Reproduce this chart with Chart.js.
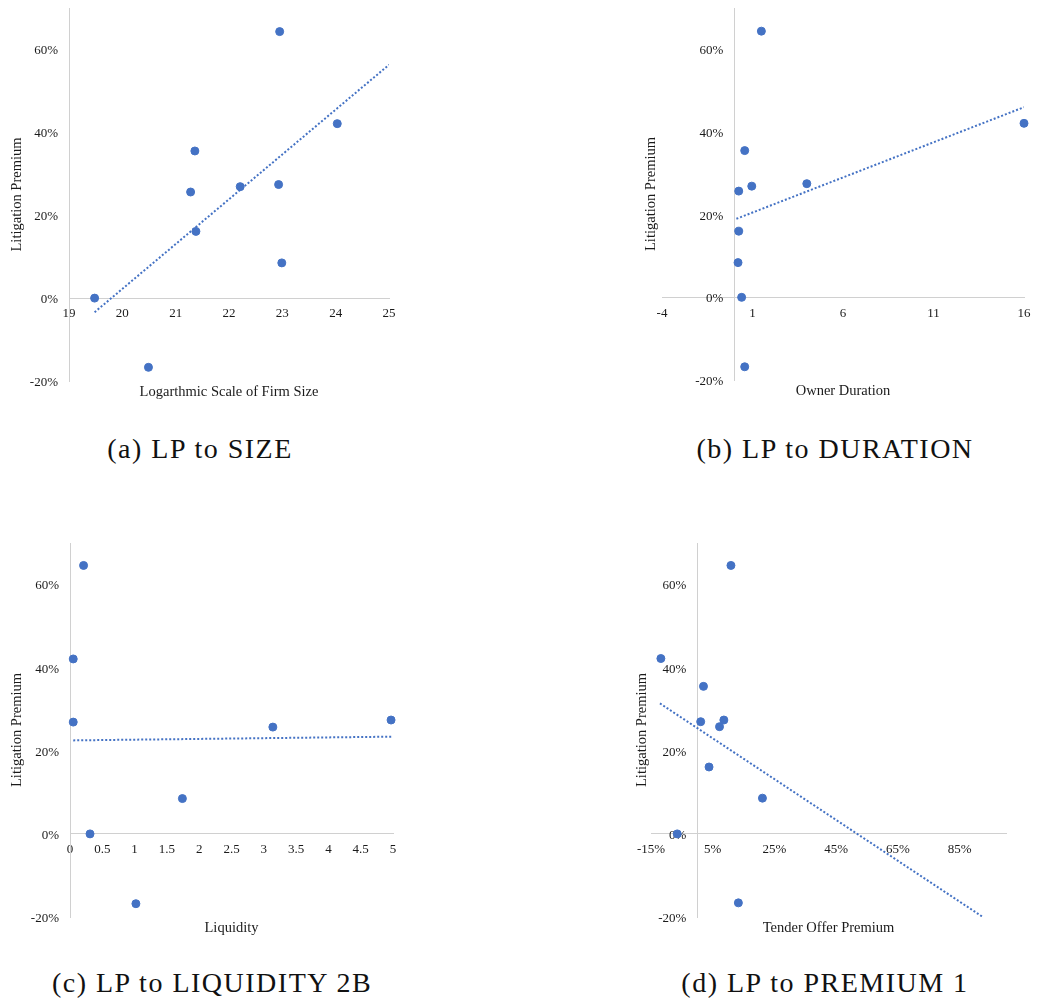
<!DOCTYPE html>
<html>
<head>
<meta charset="utf-8">
<script src="https://cdn.jsdelivr.net/npm/chart.js@4.4.1/dist/chart.umd.min.js"></script>
<style>
  body { margin: 0; background: #fff; width: 1038px; height: 1002px; position: relative; overflow: hidden; }
  canvas { position: absolute; }
  .cap {
    position: absolute; white-space: nowrap; color: #111;
    font-family: 'Liberation Serif', 'Times New Roman', serif;
    font-size: 28px; letter-spacing: 1.5px;
    transform: translate(-50%, -50%);
  }
</style>
</head>
<body>
<canvas id="chart-size"></canvas>
<canvas id="chart-duration"></canvas>
<canvas id="chart-liquidity"></canvas>
<canvas id="chart-premium"></canvas>

<div class="cap" style="left:200px; top:449px">(a) LP to SIZE</div>
<div class="cap" style="left:835px; top:449px">(b) LP to DURATION</div>
<div class="cap" style="left:212px; top:983px">(c) LP to LIQUIDITY 2B</div>
<div class="cap" style="left:825px; top:983px">(d) LP to PREMIUM 1</div>

<script>
// ---- data ----
const LP_TICKS = [-0.2, 0, 0.2, 0.4, 0.6];

// (a) firm size (log scale)
const SIZE_X  = [19.48, 20.49, 21.28, 21.36, 21.38, 22.21, 22.93, 22.95, 22.99, 24.03];
const SIZE_LP = [0, -0.167, 0.256, 0.355, 0.161, 0.269, 0.274, 0.643, 0.085, 0.421];
const SIZE_FIT_X  = [19.48, 25];
const SIZE_FIT_LP = [-0.034, 0.563];
const SIZE_TICKS  = [19, 20, 21, 22, 23, 24, 25];

// (b) owner duration
const DUR_X  = [1.49, 16.0, 0.57, 0.96, 4.0, 0.24, 0.24, 0.20, 0.40, 0.57];
const DUR_LP = [0.644, 0.421, 0.355, 0.269, 0.275, 0.257, 0.160, 0.084, 0, -0.168];
const DUR_FIT_X  = [0.11, 16];
const DUR_FIT_LP = [0.19, 0.46];
const DUR_TICKS  = [-4, 1, 6, 11, 16];

// (c) liquidity
const LIQ_X  = [0.21, 0.05, 0.05, 3.14, 4.97, 1.74, 0.31, 1.02];
const LIQ_LP = [0.646, 0.421, 0.269, 0.257, 0.274, 0.085, 0, -0.168];
const LIQ_FIT_X  = [0.05, 5.0];
const LIQ_FIT_LP = [0.225, 0.234];
const LIQ_TICKS  = [0, 0.5, 1, 1.5, 2, 2.5, 3, 3.5, 4, 4.5, 5];

// (d) tender offer premium
const PREM_X  = [0.109, -0.118, 0.020, 0.011, 0.086, 0.072, 0.038, 0.211, -0.065, 0.133];
const PREM_LP = [0.646, 0.422, 0.355, 0.270, 0.274, 0.258, 0.161, 0.086, 0, -0.166];
const PREM_FIT_X  = [-0.121, 0.925];
const PREM_FIT_LP = [0.314, -0.20];
const PREM_TICKS  = [-0.15, 0.05, 0.25, 0.45, 0.65, 0.85];

// ---- styling ----
const FONT   = "'Liberation Serif', 'Times New Roman', serif";
const TEXT   = '#1a1a1a';
const AXIS   = '#d0d0d0';
const BLUE   = '#4472C4';
const MARGIN = { left: 90, right: 40, top: 30, bottom: 40 };
const Y_LABEL_GAP = 11;   // px between the % labels and the vertical axis line

const pct = v => Math.round(v * 100) + '%';
const num = v => String(v);
const pairs = (xs, ys) => xs.map((x, i) => ({ x, y: ys[i] }));

// axis titles drawn relative to the plot area (axes cross at 0, so the built-in titles land in the wrong place)
const axisTitles = {
  id: 'axisTitles',
  beforeDraw(chart) {
    // labels of an axis positioned at a value sit flush against the line; nudge them off it
    const items = chart.scales.y.getLabelItems();
    items.forEach(it => {
      if (it._nudged) return;
      it.options.translation[0] -= Y_LABEL_GAP;
      it.options.translation[1] += 1.5;
      it._nudged = true;
    });
  },
  afterDraw(chart, args, opts) {
    const { ctx, chartArea: ca } = chart;
    ctx.save();
    ctx.font = `14.5px ${FONT}`;
    ctx.fillStyle = TEXT;
    ctx.textAlign = 'center';
    ctx.textBaseline = 'middle';
    ctx.fillText(opts.x, (ca.left + ca.right) / 2, ca.bottom + 11.5);
    ctx.translate(ca.left - opts.yGap, (ca.top + ca.bottom) / 2);
    ctx.rotate(-Math.PI / 2);
    ctx.fillText(opts.y, 0, 0);
    ctx.restore();
  },
};

function makePanel(cfg) {
  const el = document.getElementById(cfg.id);
  const a = cfg.area;
  el.width  = a.r - a.l + MARGIN.left + MARGIN.right;
  el.height = a.b - a.t + MARGIN.top + MARGIN.bottom;
  el.style.left = (a.l - MARGIN.left) + 'px';
  el.style.top  = (a.t - MARGIN.top) + 'px';

  const tickFont = { family: FONT, size: 13 };

  return new Chart(el, {
    type: 'scatter',
    data: {
      datasets: [
        {
          label: 'Litigation Premium',
          data: pairs(cfg.xs, cfg.lp),
          backgroundColor: BLUE,
          borderColor: BLUE,
          pointRadius: 4,
          pointHoverRadius: 4,
          clip: false,
        },
        {
          type: 'line',
          label: 'Linear trend',
          data: pairs(cfg.fitX, cfg.fitLp),
          borderColor: BLUE,
          borderWidth: 2,
          borderDash: [2, 2],
          pointRadius: 0,
          fill: false,
        },
      ],
    },
    options: {
      responsive: false,
      animation: false,
      events: [],
      layout: { padding: MARGIN },
      plugins: {
        legend: { display: false },
        tooltip: { enabled: false },
        axisTitles: { x: cfg.xTitle, y: 'Litigation Premium', yGap: cfg.yGap },
      },
      scales: {
        x: {
          type: 'linear',
          min: cfg.xMin, max: cfg.xMax,
          position: { y: 0 },
          afterBuildTicks: s => { s.ticks = cfg.xTicks.map(v => ({ value: v })); },
          grid: { display: false, drawTicks: false },
          border: { display: true, color: AXIS, width: 1 },
          ticks: { autoSkip: false, maxRotation: 0, padding: 8, color: TEXT, font: tickFont, callback: cfg.xFmt },
        },
        y: {
          type: 'linear',
          min: -0.2, max: 0.7,
          position: { x: cfg.yAt },
          afterBuildTicks: s => { s.ticks = LP_TICKS.map(v => ({ value: v })); },
          grid: { display: false, drawTicks: false },
          border: { display: true, color: AXIS, width: 1 },
          ticks: { autoSkip: false, color: TEXT, font: tickFont, callback: pct },
        },
      },
    },
    plugins: [axisTitles],
  });
}

makePanel({
  id: 'chart-size', area: { l: 69, t: 8, r: 389, b: 381 },
  xs: SIZE_X, lp: SIZE_LP, fitX: SIZE_FIT_X, fitLp: SIZE_FIT_LP,
  xTicks: SIZE_TICKS, xMin: 19, xMax: 25, yAt: 19, xFmt: num,
  xTitle: 'Logarthmic Scale of Firm Size', yGap: 52,
});

makePanel({
  id: 'chart-duration', area: { l: 662, t: 8, r: 1024, b: 380 },
  xs: DUR_X, lp: DUR_LP, fitX: DUR_FIT_X, fitLp: DUR_FIT_LP,
  xTicks: DUR_TICKS, xMin: -4, xMax: 16, yAt: 0, xFmt: num,
  xTitle: 'Owner Duration', yGap: 10.6,
});

makePanel({
  id: 'chart-liquidity', area: { l: 70, t: 543, r: 393, b: 917 },
  xs: LIQ_X, lp: LIQ_LP, fitX: LIQ_FIT_X, fitLp: LIQ_FIT_LP,
  xTicks: LIQ_TICKS, xMin: 0, xMax: 5, yAt: 0, xFmt: num,
  xTitle: 'Liquidity', yGap: 52.4,
});

makePanel({
  id: 'chart-premium', area: { l: 651, t: 543, r: 1006, b: 917 },
  xs: PREM_X, lp: PREM_LP, fitX: PREM_FIT_X, fitLp: PREM_FIT_LP,
  xTicks: PREM_TICKS, xMin: -0.15, xMax: 1.0, yAt: 0, xFmt: pct,
  xTitle: 'Tender Offer Premium', yGap: 9.3,
});
</script>
</body>
</html>
